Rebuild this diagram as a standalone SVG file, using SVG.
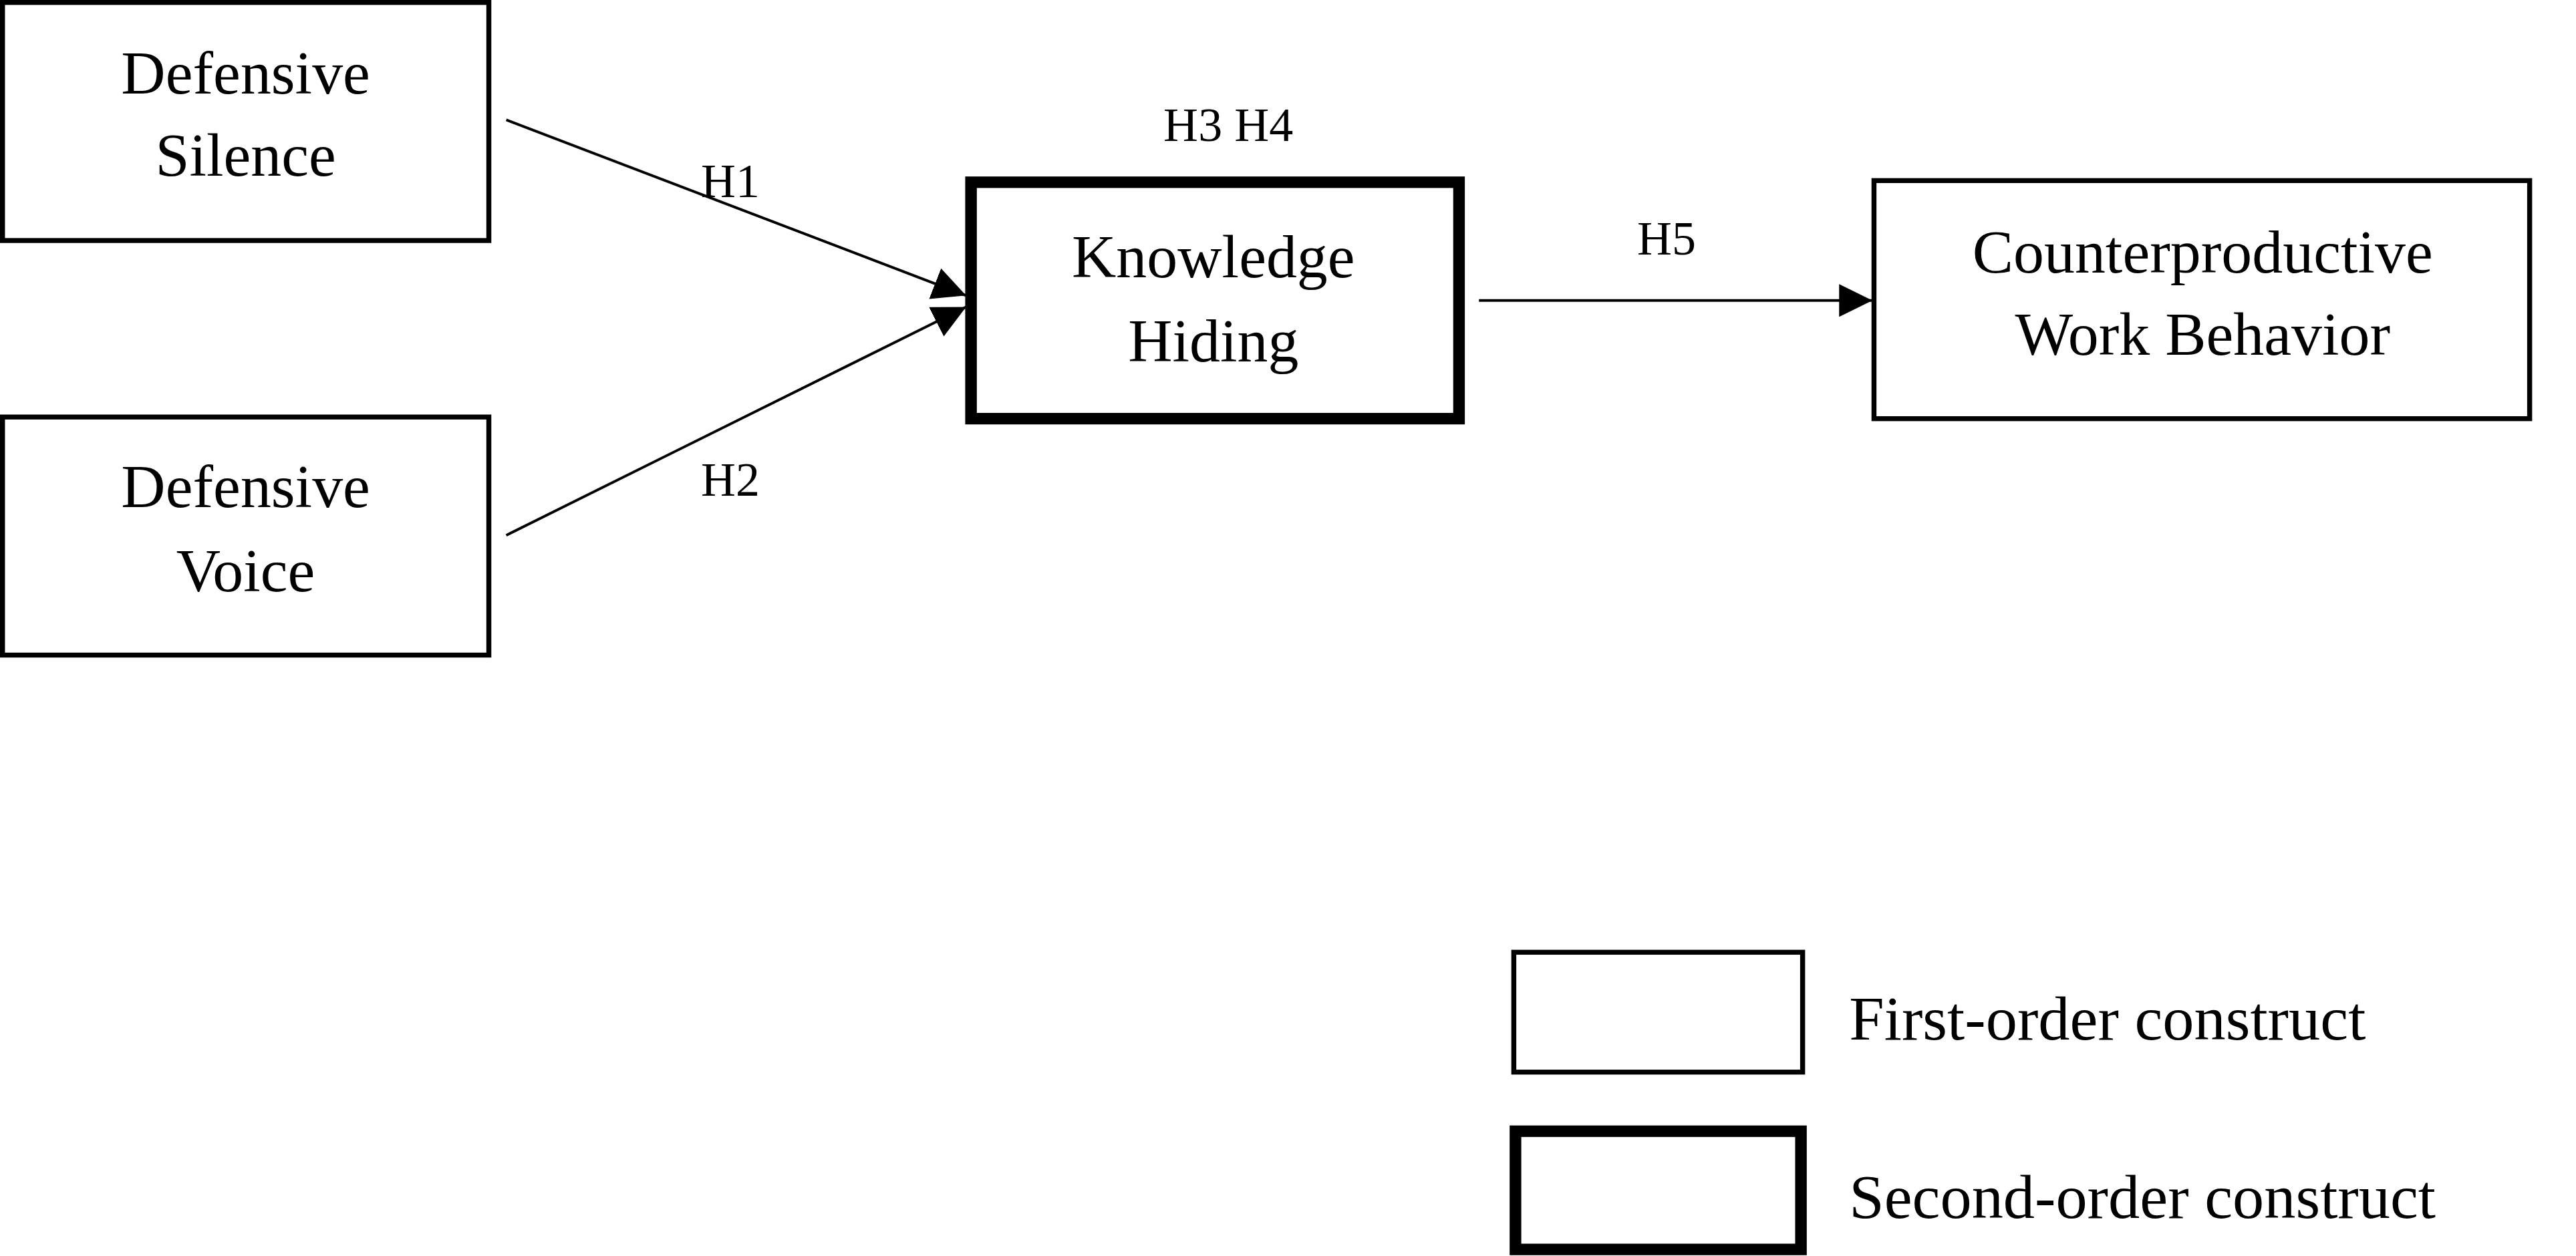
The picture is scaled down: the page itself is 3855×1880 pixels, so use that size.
<svg xmlns="http://www.w3.org/2000/svg" width="3855" height="1880" viewBox="0 0 3855 1880">
<style>
.t{font-family:"Liberation Serif","Times New Roman",serif;fill:#000}
.n{font-size:37px;text-anchor:middle}
.h{font-size:29px;text-anchor:middle}
.l{font-size:38px}
.b1{fill:#fff;stroke:#000;stroke-width:3}
.b2{fill:#fff;stroke:#000;stroke-width:7}
.c{stroke:#000;stroke-width:1.6;fill:none}
</style>
<defs><marker id="a" viewBox="0 0 10 10" refX="10" refY="5" markerWidth="12" markerHeight="12" markerUnits="userSpaceOnUse" orient="auto"><path d="M0,0L10,5L0,10z" fill="#000"/></marker>
<marker id="b" viewBox="0 0 10 10" refX="10" refY="5" markerWidth="20" markerHeight="20" markerUnits="userSpaceOnUse" orient="auto"><path d="M0,0L10,5L0,10z" fill="#000"/></marker></defs>
<rect width="3855" height="1880" fill="#fff"/>
<g transform="scale(2.484 2.4575)">
<g id="connectors">
<line class="c" x1="305" y1="73" x2="582" y2="180" marker-end="url(#b)"/>
<line class="c" x1="305" y1="326" x2="582" y2="187" marker-end="url(#b)"/>
<line class="c" x1="891" y1="183" x2="1128" y2="183" marker-end="url(#b)"/>
<text class="t h" x="440" y="120">H1</text>
<text class="t h" x="440" y="302">H2</text>
<text class="t h" x="740" y="86">H3  H4</text>
<text class="t h" x="1004" y="155">H5</text>
</g>
<g id="silence"><rect class="b1" x="1.5" y="1.5" width="293" height="145"/><text class="t n" x="148" y="57">Defensive</text><text class="t n" x="148" y="107">Silence</text></g>
<g id="voice"><rect class="b1" x="1.5" y="254" width="293" height="145"/><text class="t n" x="148" y="309">Defensive</text><text class="t n" x="148" y="360">Voice</text></g>
<g id="hiding"><rect class="b2" x="585" y="111" width="294" height="144"/><text class="t n" x="731" y="169">Knowledge</text><text class="t n" x="731" y="220">Hiding</text></g>
<g id="cwb"><rect class="b1" x="1129" y="110" width="395" height="145"/><text class="t n" x="1327" y="166">Counterproductive</text><text class="t n" x="1327" y="216">Work Behavior</text></g>
<g id="legend">
<rect class="b1" x="912" y="580" width="174" height="73"/><text class="t l" x="1114" y="633">First-order construct</text>
<rect class="b2" x="913" y="689" width="172" height="72"/><text class="t l" x="1114" y="742">Second-order construct</text>
</g>
</g>
</svg>
